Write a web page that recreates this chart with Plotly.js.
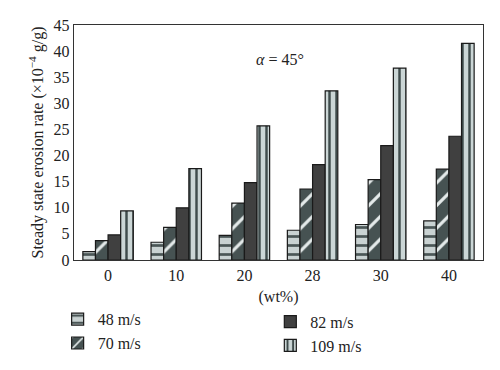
<!DOCTYPE html>
<html><head><meta charset="utf-8">
<script src="https://cdn.plot.ly/plotly-3.0.1.min.js"></script>
<style>body{margin:0;background:#fff}#chart{width:500px;height:370px}</style>
</head><body><div id="chart"></div>
<script>
const categories = ["0", "10", "20", "28", "30", "40"];
const seriesNames = ["48 m/s", "70 m/s", "82 m/s", "109 m/s"];
const v48 = [1.6, 3.4, 4.7, 5.7, 6.8, 7.5];
const v70 = [3.7, 6.25, 10.9, 13.6, 15.4, 17.4];
const v82 = [4.8, 10.0, 14.8, 18.25, 21.9, 23.7];
const v109 = [9.4, 17.5, 25.7, 32.4, 36.75, 41.5];
const yTicks = [0, 5, 10, 15, 20, 25, 30, 35, 40, 45];

const F = () => ({family: "Liberation Serif, serif", size: 16, color: "#222"});
const line = {color: "#1a1a1a", width: 1.2};

const traces = [
  {name: seriesNames[0], y: v48, legend: "legend",
   marker: {color: "#c9d2d2", line: line, pattern: {shape: "-", fgcolor: "#4a5656", bgcolor: "#c9d2d2", size: 9, solidity: 0.3}}},
  {name: seriesNames[1], y: v70, legend: "legend",
   marker: {color: "#465252", line: line, pattern: {shape: "/", fgcolor: "#e4eaea", bgcolor: "#465252", size: 16, solidity: 0.2}}},
  {name: seriesNames[2], y: v82, legend: "legend2",
   marker: {color: "#404040", line: line}},
  {name: seriesNames[3], y: v109, legend: "legend2",
   marker: {color: "#cbd6d6", line: line, pattern: {shape: "|", fgcolor: "#3f4c4c", bgcolor: "#cbd6d6", size: 7, solidity: 0.35}}}
].map(t => Object.assign({type: "bar", x: categories, hoverinfo: "none"}, t));

const layout = {
  width: 500, height: 370,
  margin: {l: 74, r: 17, t: 25, b: 110, autoexpand: false},
  paper_bgcolor: "#fff", plot_bgcolor: "#fff",
  font: F(),
  barmode: "group", bargap: 0.26, bargroupgap: 0,
  showlegend: true,
  xaxis: {type: "category", showline: true, mirror: true, linecolor: "#333", linewidth: 1.3,
          ticks: "", showgrid: false, tickfont: F(), automargin: false,
          title: {text: "(wt%)", font: F(), standoff: 8}},
  yaxis: {range: [0, 45], tickvals: yTicks, ticktext: yTicks.map(String),
          showline: true, mirror: true, linecolor: "#333", linewidth: 1.3,
          ticks: "", showgrid: false, zeroline: false, tickfont: F(), automargin: false,
          title: {text: "Steady state erosion rate (×10<sup>−4</sup> g/g)", font: F(), standoff: 6}},
  legend: {x: -0.04, y: -0.18, xanchor: "left", yanchor: "top", orientation: "v",
           font: F(), bgcolor: "rgba(0,0,0,0)", tracegroupgap: 0, itemwidth: 30},
  legend2: {x: 0.48, y: -0.19, xanchor: "left", yanchor: "top", orientation: "v",
           font: F(), bgcolor: "rgba(0,0,0,0)", tracegroupgap: 0, itemwidth: 30},
  annotations: [{xref: "paper", yref: "paper", x: 0.44, y: 0.9, xanchor: "left", showarrow: false,
                 text: "<i>α</i> = 45°", font: F()}]
};
Plotly.newPlot("chart", traces, layout, {staticPlot: true});
</script></body></html>
